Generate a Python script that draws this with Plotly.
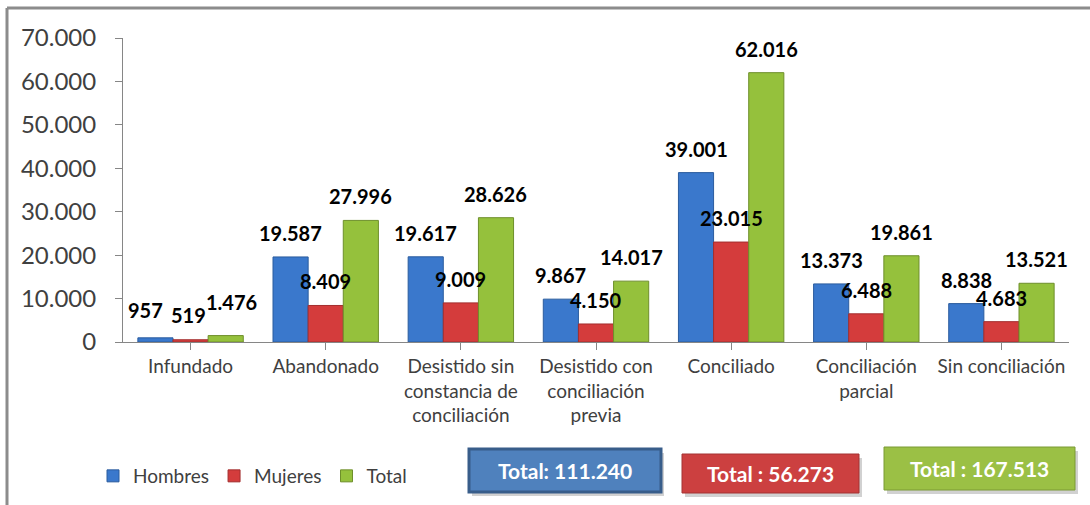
import plotly.graph_objects as go

categories = ["Infundado", "Abandonado", "Desistido sin<br>constancia de<br>conciliación",
              "Desistido con<br>conciliación<br>previa", "Conciliado",
              "Conciliación<br>parcial", "Sin conciliación"]
hombres = [957, 19587, 19617, 9867, 39001, 13373, 8838]
mujeres = [519, 8409, 9009, 4150, 23015, 6488, 4683]
total = [1476, 27996, 28626, 14017, 62016, 19861, 13521]
series_names = ["Hombres", "Mujeres", "Total"]
y_ticks = [0, 10000, 20000, 30000, 40000, 50000, 60000, 70000]

FONT = "Lato, Open Sans, sans-serif"
bar_colors = ["#3A78CC", "#D43C3C", "#95C13C"]
bar_lines = ["#2B5C9E", "#A32E2E", "#6E8F2B"]
box_fill = ["#4F81BD", "#CC4040", "#9BC045"]
box_line = ["#385D8A", "#A33232", "#7A9A35"]

# label nudges (pixels) for the crowded first group: (series, category) -> (xshift, yshift)
label_nudge = {(0, 0): (-10, 28), (1, 0): (-2, 25), (2, 0): (6, 34)}

def fmt(v):
    return f"{v:,}".replace(",", ".")

# plot area in pixels (for decoration placement)
L, R, T, B = 123, 21, 38, 163
W, H = 1090, 505
PW, PH = W - L - R, H - T - B

def px(x):
    return (x - L) / PW

def py(y):
    return (H - B - y) / PH

fig = go.Figure()
bargap = 0.22
series = [hombres, mujeres, total]
idx = list(range(len(categories)))
for k, (name, vals) in enumerate(zip(series_names, series)):
    fig.add_trace(go.Bar(
        x=idx, y=vals, name=name,
        marker=dict(color=bar_colors[k], line=dict(color=bar_lines[k], width=1)),
        hoverinfo="y+name",
    ))

annotations = []
bw = (1 - bargap) / 3
for k, vals in enumerate(series):
    for i, v in enumerate(vals):
        xs, ys = label_nudge.get((k, i), (0, 24))
        annotations.append(dict(
            x=i + (k - 1) * bw, y=v, xref="x", yref="y", text=fmt(v),
            showarrow=False, xshift=xs, yshift=ys, yanchor="middle",
            font=dict(family=FONT, size=20, color="#000000", weight="bold"),
        ))

# total boxes
boxes = [
    (469, 661, 449, 492, f"Total: {fmt(sum(hombres))}", 3),
    (682, 859, 454, 493, f"Total : {fmt(sum(mujeres))}", 1),
    (884, 1075, 447, 490, f"Total : {fmt(sum(total))}", 1),
]
shapes = []
for k, (x0, x1, y0, y1, txt, lw) in enumerate(boxes):
    shapes.append(dict(type="rect", xref="paper", yref="paper",
                       x0=px(x0 + 3), x1=px(x1 + 3), y0=py(y1 + 4), y1=py(y0 + 4),
                       fillcolor="rgba(0,0,0,0.18)", line=dict(width=0), layer="above"))
    shapes.append(dict(type="rect", xref="paper", yref="paper",
                       x0=px(x0), x1=px(x1), y0=py(y1), y1=py(y0),
                       fillcolor=box_fill[k], line=dict(color=box_line[k], width=lw), layer="above"))
    annotations.append(dict(
        x=px((x0 + x1) / 2), y=py((y0 + y1) / 2), xref="paper", yref="paper",
        text=txt, showarrow=False, xanchor="center", yanchor="middle",
        font=dict(family=FONT, size=21, color="#FFFFFF", weight="bold"),
    ))

# outer frame (left and top edges visible)
shapes.append(dict(type="line", xref="paper", yref="paper",
                   x0=px(7), x1=px(1100), y0=py(8), y1=py(8),
                   line=dict(color="#8C8C8C", width=3)))
shapes.append(dict(type="line", xref="paper", yref="paper",
                   x0=px(7), x1=px(7), y0=py(8), y1=py(520),
                   line=dict(color="#8C8C8C", width=3)))

fig.update_layout(
    width=W, height=H,
    margin=dict(l=L, r=R, t=T, b=B, autoexpand=False),
    paper_bgcolor="#FFFFFF", plot_bgcolor="#FFFFFF",
    separators=",.",
    barmode="group", bargap=bargap, bargroupgap=0,
    font=dict(family=FONT, color="#404040"),
    showlegend=True,
    legend=dict(orientation="h", x=px(93), y=py(476), xanchor="left", yanchor="middle",
                font=dict(family=FONT, size=19, color="#404040"),
                itemwidth=30, traceorder="normal", bgcolor="rgba(0,0,0,0)"),
    annotations=annotations,
    shapes=shapes,
    xaxis=dict(
        tickmode="array", tickvals=idx, ticktext=categories,
        range=[-0.5, len(categories) - 0.5],
        showline=True, linecolor="#868686", linewidth=1,
        ticks="outside", ticklen=7, tickcolor="#868686",
        showgrid=False, zeroline=False,
        tickfont=dict(family=FONT, size=19, color="#404040"),
    ),
    yaxis=dict(
        range=[0, 70000], tickvals=y_ticks, tickformat=",d",
        showline=True, linecolor="#868686", linewidth=1,
        ticks="outside", ticklen=7, tickcolor="#868686",
        showgrid=False, zeroline=False,
        ticklabelstandoff=14,
        tickfont=dict(family=FONT, size=24, color="#404040"),
    ),
)

fig.write_html("out.html", config={"displayModeBar": False},
               post_script="document.body.style.margin='0';")
